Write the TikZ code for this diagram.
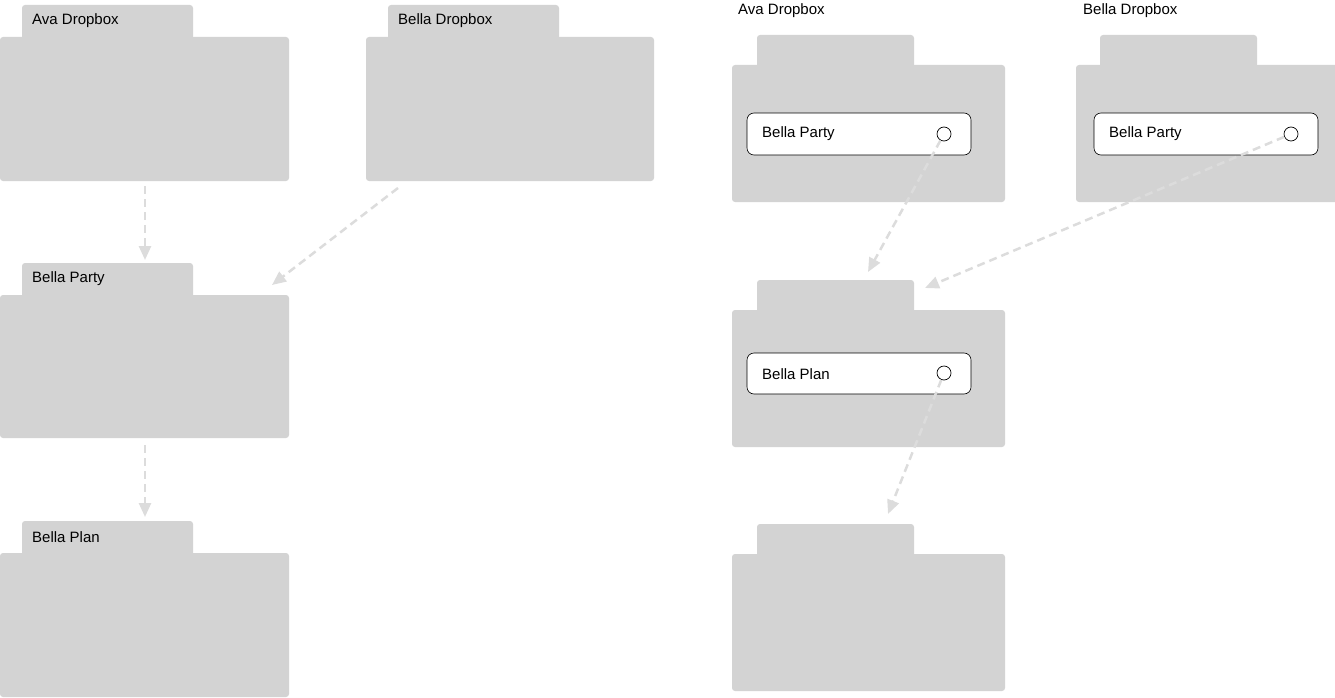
\documentclass[tikz,border=0pt]{standalone}
\usepackage{fontspec}
\setmainfont{Liberation Sans}
\usetikzlibrary{arrows.meta}
\definecolor{fold}{HTML}{D3D3D3}
\definecolor{arr}{HTML}{DCDCDC}
\tikzset{
  tab/.style={fill=fold,rounded corners=3pt,draw=none},
  lbl/.style={anchor=west,inner sep=0pt,font=\fontsize{15}{18}\selectfont},
  item/.style={draw=black,fill=white,rounded corners=7pt,line width=0.6pt},
  dot/.style={circle,draw=black,fill=white,line width=0.7pt,minimum size=14pt,inner sep=0pt},
  link/.style={draw=arr,line width=2.5pt,dash pattern=on 8pt off 5pt,-{Triangle[length=14pt,width=12pt]}},
}
\begin{document}
\begin{tikzpicture}[x=1pt,y=-1pt]
\useasboundingbox (0,0) rectangle (1335,698);
% ---- left
\newcommand{\folder}[6]{% name, x0,x1, tab x0, tab x1, ytab
}
% Ava Dropbox
\fill[tab] (22,5) rectangle (193,45);
\fill[tab] (0,37) rectangle (289,181);
\node[lbl] (l1) at (32,21) {Ava Dropbox};
\coordinate (l1b) at (145,186);
% Bella Dropbox
\fill[tab] (388,5) rectangle (559,45);
\fill[tab] (366,37) rectangle (654,181);
\node[lbl] (l2) at (398,21) {Bella Dropbox};
\coordinate (l2b) at (398,188);
% Bella Party
\fill[tab] (22,263) rectangle (193,303);
\fill[tab] (0,295) rectangle (289,438);
\node[lbl] (l3) at (32,279) {Bella Party};
\coordinate (l3t) at (145,260);
\coordinate (l3r) at (272,285);
\coordinate (l3b) at (145,445);
% Bella Plan
\fill[tab] (22,521) rectangle (193,561);
\fill[tab] (0,553) rectangle (289,697);
\node[lbl] (l4) at (32,537) {Bella Plan};
\coordinate (l4t) at (145,517);
\draw[link] (l1b) -- (l3t);
\draw[link] (l2b) -- (l3r);
\draw[link] (l3b) -- (l4t);
% ---- right
\node[lbl] (r1) at (738,11) {Ava Dropbox};
\node[lbl] (r2) at (1083,11) {Bella Dropbox};
\fill[tab] (757,35) rectangle (914,73);
\fill[tab] (732,65) rectangle (1005,202);
\fill[tab] (1100,35) rectangle (1257,73);
\fill[tab] (1076,65) rectangle (1340,202);
\draw[item] (747,113) rectangle (971,155);
\node[lbl] (r1i) at (762,134) {Bella Party};
\node[dot] (c1) at (944,134) {};
\draw[item] (1094,113) rectangle (1318,155);
\node[lbl] (r2i) at (1109,134) {Bella Party};
\node[dot] (c2) at (1291,134) {};
\fill[tab] (757,280) rectangle (914,318);
\fill[tab] (732,310) rectangle (1005,447);
\draw[item] (747,353) rectangle (971,394);
\node[lbl] (r3i) at (762,374) {Bella Plan};
\node[dot] (c3) at (944,373) {};
\fill[tab] (757,524) rectangle (914,562);
\fill[tab] (732,554) rectangle (1005,691);
\coordinate (m1) at (868,272);
\coordinate (m2) at (925,288);
\coordinate (m3) at (888,514);
\draw[link] (c1) -- (m1);
\draw[link] (c2) -- (m2);
\draw[link] (c3) -- (m3);
\end{tikzpicture}
\end{document}
